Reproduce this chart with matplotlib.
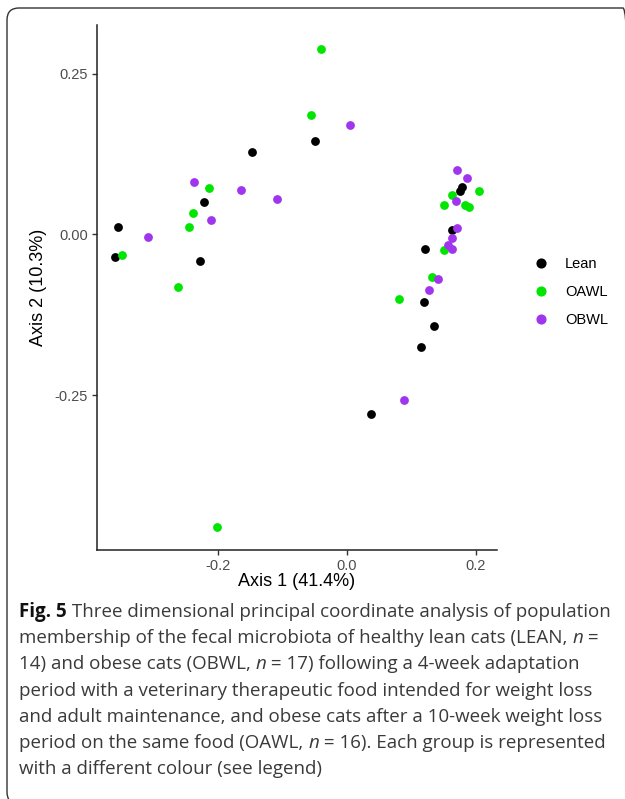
import matplotlib
matplotlib.use("Agg")
import matplotlib.pyplot as plt
from matplotlib.patches import FancyBboxPatch
from matplotlib.lines import Line2D

# PCoA coordinates
lean_x = [-0.049, -0.147, -0.222, -0.356, -0.361, -0.228, 0.176, 0.179, 0.163, 0.122, 0.119, 0.136, 0.115, 0.037]
lean_y = [0.145, 0.128, 0.050, 0.012, -0.035, -0.042, 0.068, 0.074, 0.007, -0.022, -0.105, -0.143, -0.175, -0.280]

oawl_x = [-0.040, -0.0565, -0.214, -0.239, -0.245, -0.350, 0.2056, 0.164, 0.151, 0.184, 0.190, 0.151, 0.132, -0.263, 0.081, -0.2025]
oawl_y = [0.288, 0.186, 0.0725, 0.034, 0.011, -0.032, 0.068, 0.062, 0.046, 0.046, 0.043, -0.024, -0.067, -0.082, -0.101, -0.455]

obwl_x = [0.005, -0.237, -0.164, -0.108, -0.211, -0.310, 0.171, 0.186, 0.170, 0.171, 0.163, 0.157, 0.164, 0.141, 0.127, 0.089]
obwl_y = [0.170, 0.081, 0.069, 0.055, 0.023, -0.004, 0.100, 0.087, 0.052, 0.010, -0.005, -0.016, -0.022, -0.070, -0.087, -0.258]

groups = ["Lean", "OAWL", "OBWL"]
colors = ["#000000", "#00E600", "#A035EE"]

x_ticks = [-0.2, 0.0, 0.2]
x_tick_labels = ["-0.2", "0.0", "0.2"]
y_ticks = [-0.25, 0.0, 0.25]
y_tick_labels = ["-0.25", "0.00", "0.25"]

caption = [
    [("Fig. 5", "bold"), (" Three dimensional principal coordinate analysis of population", "normal")],
    [("membership of the fecal microbiota of healthy lean cats (LEAN, ", "normal"), ("n", "italic"), (" =", "normal")],
    [("14) and obese cats (OBWL, ", "normal"), ("n", "italic"), (" = 17) following a 4-week adaptation", "normal")],
    [("period with a veterinary therapeutic food intended for weight loss", "normal")],
    [("and adult maintenance, and obese cats after a 10-week weight loss", "normal")],
    [("period on the same food (OAWL, ", "normal"), ("n", "italic"), (" = 16). Each group is represented", "normal")],
    [("with a different colour (see legend)", "normal")],
]

plt.rcParams["font.family"] = ["Liberation Sans", "DejaVu Sans"]

fig = plt.figure(figsize=(6.25, 7.99), dpi=100)
ax = fig.add_axes([0.1547, 0.3116, 0.6403, 0.6571])

for gx, gy, name, col in zip([lean_x, oawl_x, obwl_x], [lean_y, oawl_y, obwl_y], groups, colors):
    ax.scatter(gx, gy, s=40, color=col, linewidths=0, label=name)

ax.set_xlim(-0.389, 0.233)
ax.set_ylim(-0.491, 0.3257)
ax.set_xticks(x_ticks)
ax.set_xticklabels(x_tick_labels)
ax.set_yticks(y_ticks)
ax.set_yticklabels(y_tick_labels)
ax.spines["top"].set_visible(False)
ax.spines["right"].set_visible(False)
for s in ["left", "bottom"]:
    ax.spines[s].set_linewidth(1.1)
    ax.spines[s].set_color("#222222")
ax.tick_params(length=3.5, width=1.0, color="#333333", labelsize=10.5, labelcolor="#4D4D4D", pad=3)
ax.set_xlabel("Axis 1 (41.4%)", fontsize=13, labelpad=0)
ax.set_ylabel("Axis 2 (10.3%)", fontsize=13, labelpad=5)

handles = [Line2D([], [], marker="o", linestyle="", color=c, markersize=6.3) for c in colors]
fig.legend(handles, groups, loc="center left", bbox_to_anchor=(0.843, 0.6345), frameon=False,
           fontsize=10.5, handlelength=1.0, handletextpad=1.1, labelspacing=0.95, borderpad=0)

# caption under the plot, drawn run by run so bold / italic can mix
renderer = fig.canvas.get_renderer()
cap_size = 13.5
y_px = 612
for line in caption:
    x_px = 19
    for txt, style in line:
        kw = dict(fontsize=cap_size, family=["Open Sans", "DejaVu Sans"], va="center", ha="left")
        if style == "bold":
            kw.update(weight="bold", color="#111111")
        elif style == "italic":
            kw.update(style="italic", color="#3a3a3a")
        else:
            kw.update(color="#3a3a3a")
        t = fig.text(x_px / 625, 1 - y_px / 799, txt, **kw)
        x_px += t.get_window_extent(renderer).width
    y_px += 26.2

border = FancyBboxPatch((0.07, -0.05), 6.28, 7.96, boxstyle="round,pad=0,rounding_size=0.12",
                        transform=fig.dpi_scale_trans, fill=False, edgecolor="#333333",
                        linewidth=1.0, clip_on=False)
fig.add_artist(border)

fig.savefig("out.png", dpi=100)
